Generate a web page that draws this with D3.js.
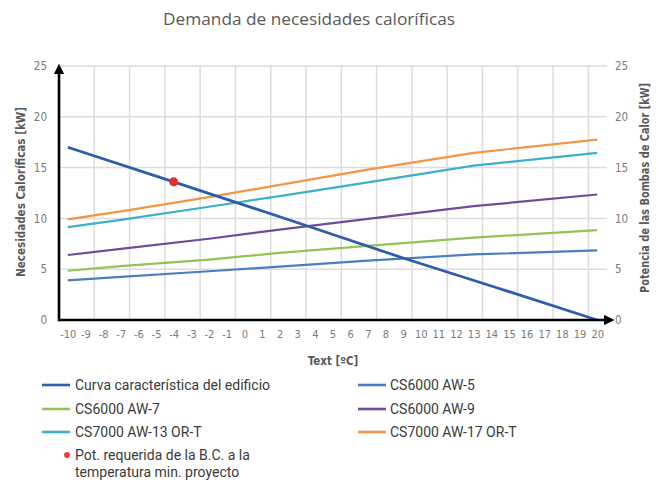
<!DOCTYPE html>
<html>
<head>
<meta charset="utf-8">
<title>Demanda de necesidades caloríficas</title>
<script src="https://d3js.org/d3.v7.min.js"></script>
<style>
  body { margin: 0; background: #fff; }
</style>
</head>
<body>
<script>
// categorias del eje X (temperatura exterior)
var temps = [-10,-9,-8,-7,-6,-5,-4,-3,-2,-1,0,1,2,3,4,5,6,7,8,9,10,11,12,13,14,15,16,17,18,19,20];
var yTicks = [0, 5, 10, 15, 20, 25];

// curva del edificio
var buildT = [-10, -4, 3.5, 9, 14, 20];
var buildV = [17.0, 13.6, 9.3, 6.1, 3.35, 0];

// bombas de calor, puntos de quiebre leidos
var pumpT = [-10, -7, -2, 2, 7, 13, 20];
var aw5   = [3.9, 4.25, 4.8, 5.25, 5.85, 6.45, 6.85];
var aw7   = [4.85, 5.3, 5.95, 6.6, 7.3, 8.1, 8.85];
var aw9   = [6.4, 7.0, 8.0, 8.9, 9.95, 11.2, 12.35];
var aw13  = [9.15, 9.85, 11.15, 12.2, 13.55, 15.2, 16.45];
var aw17  = [9.9, 10.7, 12.1, 13.3, 14.8, 16.45, 17.75];

// punto requerido a la temperatura minima
var reqPoint = { t: -4, v: 13.6 };

var seriesNames = ["Curva característica del edificio", "CS6000 AW-5", "CS6000 AW-7", "CS6000 AW-9", "CS7000 AW-13 OR-T", "CS7000 AW-17 OR-T"];
var colors = ["#2e5dac", "#4a7ec0", "#94c255", "#6e4c9a", "#3cb0c6", "#f79443"];

var W = 665, H = 480;
var pL = 59, pR = 606, pT = 66, pB = 320;

var svg = d3.select("body").append("svg").attr("width", W).attr("height", H);

var x = d3.scaleLinear().domain([-10.5, 20.5]).range([pL, pR]);
var y = d3.scaleLinear().domain([0, 25]).range([pB, pT]);

// title
svg.append("text").attr("x", 309).attr("y", 25).attr("text-anchor", "middle")
  .attr("font-family", "'Open Sans', sans-serif").attr("font-size", 15.5).attr("fill", "#595959")
  .attr("textLength", 292).attr("lengthAdjust", "spacingAndGlyphs")
  .text("Demanda de necesidades caloríficas");

// grid
var grid = svg.append("g").attr("stroke", "#dcdcdc").attr("stroke-width", 1.5);
grid.selectAll(".h").data(yTicks.slice(1)).enter().append("line")
  .attr("x1", pL).attr("x2", pR + 1).attr("y1", d => y(d)).attr("y2", d => y(d));
grid.selectAll(".v").data(temps.filter((t, i) => i > 0 && i % 2 == 0)).enter().append("line")
  .attr("x1", d => x(d - 0.5)).attr("x2", d => x(d - 0.5)).attr("y1", y(25)).attr("y2", pB);

// axes labels
var tickFont = "'Liberation Sans Narrow', 'DejaVu Sans Condensed', sans-serif";
var xAxis = d3.axisBottom(x).tickValues(temps).tickFormat(d => String(d)).tickSize(0).tickPadding(10);
var xg = svg.append("g").attr("transform", "translate(0," + pB + ")").call(xAxis);
xg.select(".domain").remove();
xg.selectAll("text").attr("font-family", tickFont).attr("font-size", 11).attr("fill", "#7a7a7a");

var yl = svg.append("g").attr("transform", "translate(47,0)")
  .call(d3.axisLeft(y).tickValues(yTicks).tickSize(0).tickPadding(0));
yl.select(".domain").remove();
yl.selectAll("text").attr("font-family", tickFont).attr("font-size", 11.5).attr("fill", "#7a7a7a");

var yr = svg.append("g").attr("transform", "translate(615,0)")
  .call(d3.axisRight(y).tickValues(yTicks).tickSize(0).tickPadding(0));
yr.select(".domain").remove();
yr.selectAll("text").attr("font-family", tickFont).attr("font-size", 11.5).attr("fill", "#7a7a7a");

// axis titles
svg.append("text").attr("x", 333).attr("y", 365).attr("text-anchor", "middle")
  .attr("font-family", tickFont).attr("font-weight", "bold").attr("font-size", 11.5).attr("fill", "#595959")
  .text("Text [ºC]");
svg.append("text").attr("transform", "translate(25,192) rotate(-90)").attr("text-anchor", "middle")
  .attr("font-family", tickFont).attr("font-weight", "bold").attr("font-size", 11.5).attr("fill", "#595959")
  .attr("textLength", 170).attr("lengthAdjust", "spacingAndGlyphs")
  .text("Necesidades Caloríficas [kW]");
svg.append("text").attr("transform", "translate(649,188) rotate(-90)").attr("text-anchor", "middle")
  .attr("font-family", tickFont).attr("font-weight", "bold").attr("font-size", 11.5).attr("fill", "#595959")
  .attr("textLength", 210).attr("lengthAdjust", "spacingAndGlyphs")
  .text("Potencia de las Bombas de Calor [kW]");

// lines
var line = d3.line().x(d => x(d[0])).y(d => y(d[1]));
var pumps = [aw5, aw7, aw9, aw13, aw17];
pumps.forEach(function (vals, i) {
  svg.append("path").datum(pumpT.map((t, j) => [t, vals[j]]))
    .attr("fill", "none").attr("stroke", colors[i + 1]).attr("stroke-width", 2.2)
    .attr("stroke-linejoin", "round").attr("d", line);
});
svg.append("path").datum(buildT.map((t, j) => [t, buildV[j]]))
  .attr("fill", "none").attr("stroke", colors[0]).attr("stroke-width", 2.8)
  .attr("stroke-linejoin", "round").attr("d", line);

// black axis lines with arrows
var defs = svg.append("defs");
defs.append("marker").attr("id", "arr").attr("viewBox", "0 0 10 10").attr("refX", 2).attr("refY", 5)
  .attr("markerWidth", 4).attr("markerHeight", 4).attr("orient", "auto")
  .append("path").attr("d", "M0,0 L10,5 L0,10 z").attr("fill", "#000");
svg.append("line").attr("x1", pL).attr("x2", pR).attr("y1", pB).attr("y2", pB)
  .attr("stroke", "#000").attr("stroke-width", 2.6).attr("marker-end", "url(#arr)");
svg.append("line").attr("x1", pL).attr("x2", pL).attr("y1", pB + 1.3).attr("y2", y(25) + 6)
  .attr("stroke", "#000").attr("stroke-width", 2.6).attr("marker-end", "url(#arr)");

// red point
svg.append("circle").attr("cx", x(reqPoint.t)).attr("cy", y(reqPoint.v)).attr("r", 4.5).attr("fill", "#ee2a2a");

// legend
var legFont = "Roboto, 'Noto Sans', sans-serif";
var legRows = [385, 409, 432];
var leg = svg.append("g").attr("font-family", legFont).attr("font-size", 14).attr("fill", "#3b3b3b");
seriesNames.forEach(function (name, i) {
  var col = i % 2, row = Math.floor(i / 2);
  var lx = col == 0 ? 42 : 358, tx = col == 0 ? 75 : 390;
  var ly = legRows[row];
  leg.append("line").attr("x1", lx).attr("x2", lx + 28).attr("y1", ly).attr("y2", ly)
    .attr("stroke", colors[i]).attr("stroke-width", 2.6);
  leg.append("text").attr("x", tx).attr("y", ly + 5).text(name);
});
leg.append("circle").attr("cx", 67).attr("cy", 455).attr("r", 3).attr("fill", "#ee4040");
leg.append("text").attr("x", 75).attr("y", 460).text("Pot. requerida de la B.C. a la");
leg.append("text").attr("x", 75).attr("y", 477).text("temperatura min. proyecto");
</script>
</body>
</html>
